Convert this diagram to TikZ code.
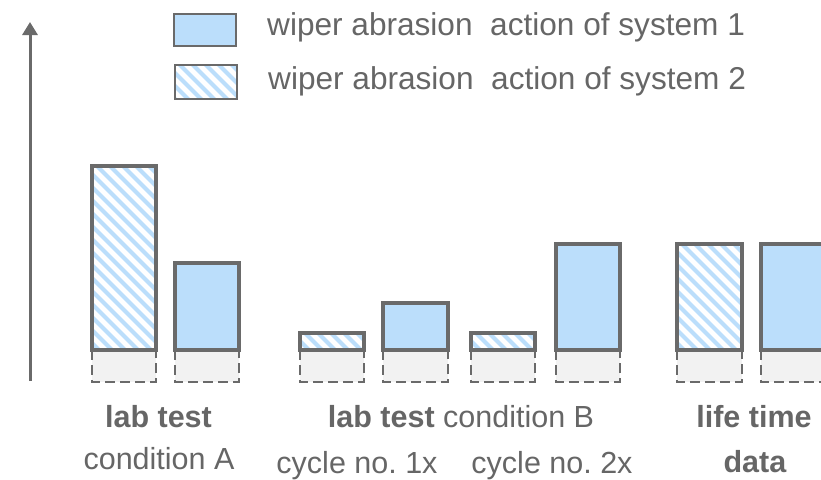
\documentclass[tikz,border=0pt]{standalone}
\usepackage{fontspec}
\setmainfont{Liberation Sans}
\frenchspacing
\usetikzlibrary{arrows.meta}
\definecolor{barblue}{RGB}{187,222,251}
\definecolor{edgegray}{RGB}{106,106,106}
\definecolor{basegray}{RGB}{242,242,242}
\definecolor{txtgray}{RGB}{102,102,102}
\newcommand\hatchrect[4]{%
  \fill[white] (#1,#2) rectangle (#3,#4);
  \begin{scope}
    \clip (#1,#2) rectangle (#3,#4);
    \foreach \k in {-16,...,8} {
      \draw[barblue, line width=4.2pt] (#1+\k*13,#2-5) -- ++(220,220);
    }
  \end{scope}}
\tikzset{
  barframe/.style={draw=edgegray, line width=4pt},
  legframe/.style={draw=edgegray, line width=2.5pt},
  solidbar/.style={fill=barblue, draw=edgegray, line width=4pt},
  basebox/.style={fill=basegray, draw=edgegray, line width=2.4pt, dash pattern=on 10pt off 5pt},
  axisline/.style={draw=edgegray, line width=3pt, -{Triangle[width=15pt,length=13pt]}},
  lbl/.style={text=txtgray, font=\fontsize{30.5}{36}\selectfont, inner sep=0pt, anchor=base},
  leglbl/.style={text=txtgray, font=\fontsize{31.6}{36}\selectfont, inner sep=0pt, anchor=base west},
}
\begin{document}
\begin{tikzpicture}[x=1pt, y=-1pt]
\useasboundingbox (0,0) rectangle (821,479);
% axis
\coordinate (ax0) at (30,381);
\coordinate (ax1) at (30,22);
\draw[axisline] (ax0) -- (ax1);
% legend
\fill[barblue] (174,14) rectangle (236,46);
\draw[legframe] (174,14) rectangle (236,46);
\hatchrect{175}{65}{237}{99}
\draw[legframe] (175,65) rectangle (237,99);
\node[leglbl] (leg1) at (267,35) {wiper abrasion\ \ action of system 1};
\node[leglbl] (leg2) at (268,89) {wiper abrasion\ \ action of system 2};
% base boxes
\foreach \a/\b in {92/156, 175/239, 300/364, 383/448, 471/535, 556/620, 677/742, 761/826} {
  \draw[basebox] (\a,350) rectangle (\b,382);
}
% bars
\hatchrect{92}{166}{156}{350}
\draw[barframe] (92,166) rectangle (156,350);
\draw[solidbar] (175,263) rectangle (239,350);
\hatchrect{300}{333}{364}{350}
\draw[barframe] (300,333) rectangle (364,350);
\draw[solidbar] (383,303) rectangle (448,350);
\hatchrect{471}{333}{535}{350}
\draw[barframe] (471,333) rectangle (535,350);
\draw[solidbar] (556,244) rectangle (620,350);
\hatchrect{677}{244}{742}{350}
\draw[barframe] (677,244) rectangle (742,350);
\draw[solidbar] (761,244) rectangle (828,350);
% labels
\node[lbl] (labA) at (158.5,427) {\textbf{lab test}};
\node[lbl] (condA) at (159,469) {condition A};
\node[lbl] (labB) at (461,427) {\textbf{lab test} condition B};
\node[lbl] (cyc1) at (357,473) {cycle no. 1x};
\node[lbl] (cyc2) at (552,473) {cycle no. 2x};
\node[lbl] (life) at (754,427) {\textbf{life time}};
\node[lbl] (data) at (755,472) {\textbf{data}};
\end{tikzpicture}
\end{document}
